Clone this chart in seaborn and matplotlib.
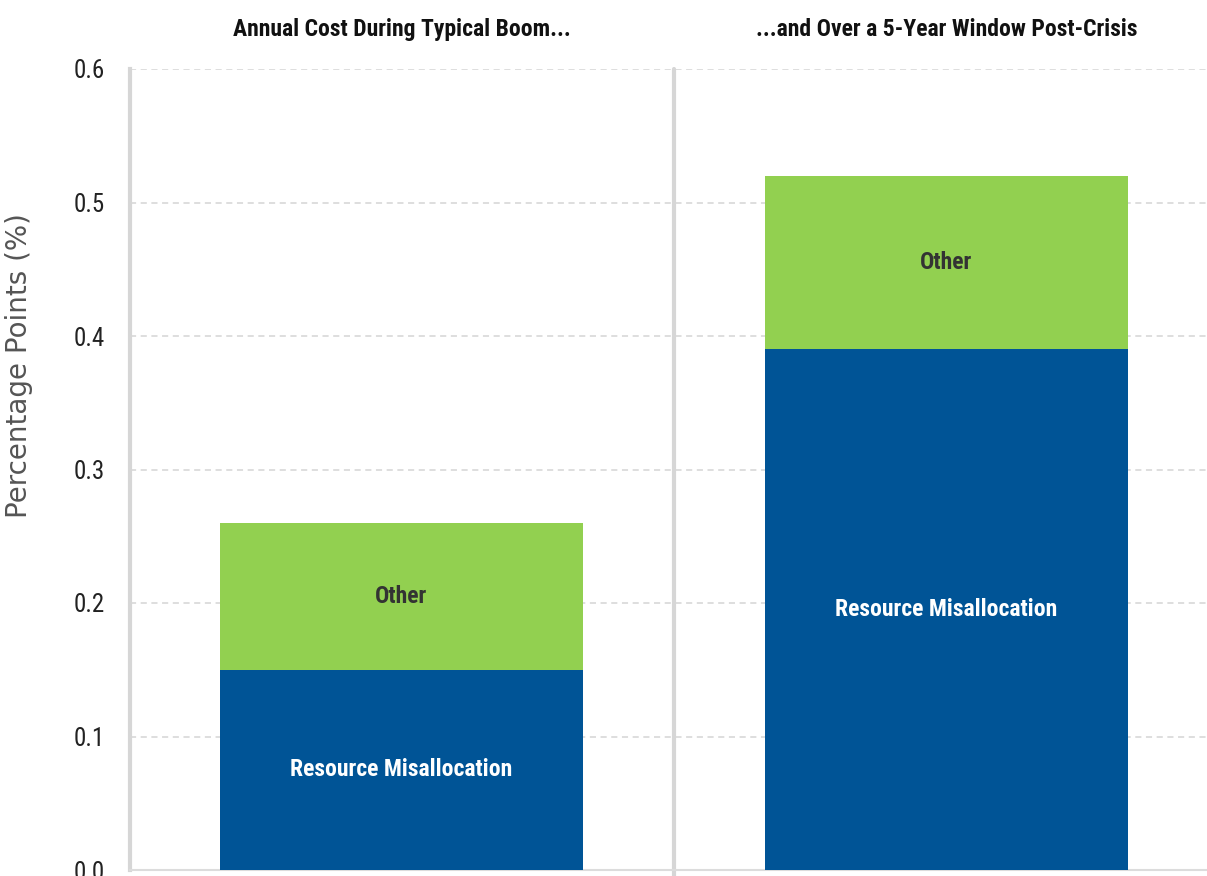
import matplotlib
matplotlib.use("Agg")
import matplotlib.pyplot as plt
import matplotlib.transforms as mtransforms
from matplotlib import font_manager as fm
import seaborn as sns
import pandas as pd

# Data
categories = ["Annual Cost During Typical Boom...", "...and Over a 5-Year Window Post-Crisis"]
resource_misallocation = [0.15, 0.39]
other = [0.11, 0.13]
y_ticks = [0.0, 0.1, 0.2, 0.3, 0.4, 0.5, 0.6]
y_label = "Percentage Points (%)"

BLUE = "#005496"
GREEN = "#92d050"
GRID = "#d4d4d4"


def pick_narrow_font():
    """Return (family, stretch) of an installed narrow sans font, if any."""
    preferred = ["Liberation Sans Narrow", "Arial Narrow", "Roboto Condensed",
                 "Open Sans Condensed", "DejaVu Sans Condensed", "Noto Sans Condensed"]
    entries = fm.fontManager.ttflist
    names = {f.name for f in entries}
    for p in preferred:
        if p in names:
            return p, "normal"
    for f in entries:
        if str(f.stretch) in ("condensed", "semi-condensed", "extra-condensed"):
            return f.name, f.stretch
    return None, None


narrow_family, narrow_stretch = pick_narrow_font()
if narrow_family:
    NARROW = dict(family=[narrow_family, "DejaVu Sans"], stretch=narrow_stretch)
    label_size, tick_size = 17, 18
else:
    NARROW = dict(family=["Liberation Sans", "DejaVu Sans"])
    label_size, tick_size = 15, 17

sns.set_theme(style="white")
plt.rcParams["font.family"] = ["Liberation Sans", "DejaVu Sans"]

df = pd.DataFrame({
    "category": categories,
    "misallocation": resource_misallocation,
    "other": other,
})
df["total"] = df["misallocation"] + df["other"]

fig = plt.figure(figsize=(12.07, 8.76), dpi=100)
ax = fig.add_axes([130 / 1207, 6 / 876, (1207 - 130) / 1207, 801 / 876])

# stacked bars: total (green) underneath, misallocation (blue) in front
sns.barplot(data=df, x="category", y="total", color=GREEN, width=0.666,
            saturation=1, ax=ax, zorder=3, linewidth=0)
sns.barplot(data=df, x="category", y="misallocation", color=BLUE, width=0.666,
            saturation=1, ax=ax, zorder=4, linewidth=0)

ax.set_ylim(0, 0.6)
ax.set_xlim(-0.498, 1.478)
ax.set_yticks(y_ticks)
ax.set_yticklabels([f"{t:.1f}" for t in y_ticks], fontsize=tick_size,
                   color="#222222", **NARROW)
ax.tick_params(axis="y", length=0, pad=18)
ax.set_xticks([])
ax.set_xlabel("")
ax.set_ylabel(y_label, fontsize=20, color="#555555", family=["DejaVu Sans"])
ax.yaxis.set_label_coords(-0.090, 0.63)

# grid
for t in y_ticks[1:]:
    ax.axhline(t, color=GRID, lw=1.1, ls=(0, (4, 3)), zorder=1)

for s in ["top", "right"]:
    ax.spines[s].set_visible(False)
ax.spines["left"].set_color("#d6d6d6")
ax.spines["left"].set_linewidth(3)
ax.spines["bottom"].set_color("#dcdcdc")
ax.spines["bottom"].set_linewidth(1.5)

# panel separator
ax.axvline(0.5, ymin=-0.01, ymax=1, color="#d6d6d6", lw=3, zorder=2, clip_on=False)

# panel titles and segment labels
trans = mtransforms.blended_transform_factory(ax.transData, ax.transAxes)
for i, cat in enumerate(categories):
    ax.text(i, 1.049, cat, transform=trans, ha="center", va="center",
            fontweight="bold", fontsize=label_size, color="#111111", **NARROW)
    m = resource_misallocation[i]
    o = other[i]
    ax.text(i, m / 2, "Resource Misallocation", ha="center", va="center",
            fontweight="bold", fontsize=label_size, color="white", zorder=5, **NARROW)
    ax.text(i, m + o / 2, "Other", ha="center", va="center",
            fontweight="bold", fontsize=label_size, color="#333333", zorder=5, **NARROW)

fig.savefig("out.png", dpi=100)
